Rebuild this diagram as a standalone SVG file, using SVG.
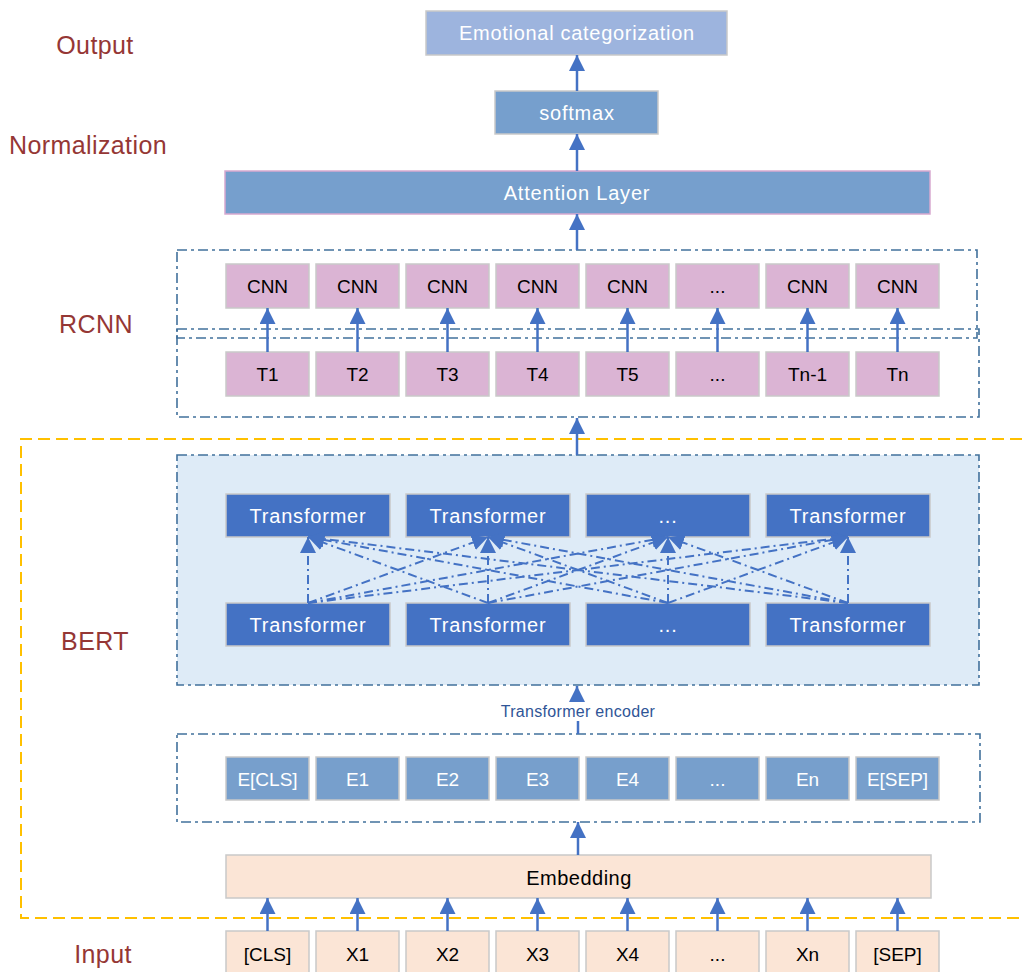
<svg xmlns="http://www.w3.org/2000/svg" width="1022" height="972" viewBox="0 0 1022 972">
<defs>
<marker id="ah" markerUnits="userSpaceOnUse" markerWidth="16" markerHeight="16" refX="15" refY="7.5" orient="auto" viewBox="0 0 15 15">
<path d="M0,0 L15,7.5 L0,15 z" fill="#4472C4"/>
</marker>
<style>
.lbl{font-family:"Liberation Sans",Arial,sans-serif;font-size:25px;fill:#953735;text-anchor:middle;letter-spacing:0.4px}
.t{font-family:"Liberation Sans",Arial,sans-serif;font-size:19px;text-anchor:middle}
.tw{fill:#ffffff}
.tb{fill:#000000}
.tf{font-size:20px;letter-spacing:0.8px}
.box{stroke:#C9C9C9;stroke-width:1.5}
.pink{fill:#DBB4D4}
.peach{fill:#FBE5D6}
.eblue{fill:#779FCC}
.tr{fill:#4472C4}
.cont{fill:none;stroke:#41719C;stroke-width:1.6;stroke-dasharray:10 4 3 4}
.arr{stroke:#4472C4;stroke-width:2.5;fill:none;marker-end:url(#ah)}
.x{stroke:#4472C4;stroke-width:2;fill:none;stroke-dasharray:9 4 2 4;marker-end:url(#ah)}
</style>
</defs>
<rect width="1022" height="972" fill="#ffffff"/>

<g id="labels">
<text class="lbl" x="95" y="54">Output</text>
<text class="lbl" x="88" y="154">Normalization</text>
<text class="lbl" x="96" y="333">RCNN</text>
<text class="lbl" x="95" y="650">BERT</text>
<text class="lbl" x="103" y="963">Input</text>
</g>

<g id="bert-region">
<path d="M1022,439 H21 V918 H1022" fill="none" stroke="#FFC000" stroke-width="2" stroke-dasharray="12 6"/>
</g>

<g id="containers">
<rect class="cont" x="177" y="250" width="800" height="88"/>
<rect class="cont" x="177" y="329" width="802" height="88"/>
<rect x="177" y="455" width="802" height="230" fill="#DEEBF7" stroke="#41719C" stroke-width="1.6" stroke-dasharray="10 4 3 4"/>
<rect class="cont" x="177" y="734" width="803" height="88"/>
</g>

<g id="output">
<rect class="box" x="426" y="11" width="301" height="44" fill="#9DB4DE"/>
<text class="t tw" x="577" y="40" style="font-size:20px;letter-spacing:0.7px">Emotional categorization</text>
</g>
<g id="softmax">
<rect class="box" x="495" y="91" width="163" height="43" fill="#769FCD"/>
<text class="t tw" x="577" y="120" style="font-size:20px;letter-spacing:0.8px">softmax</text>
</g>
<g id="attention">
<rect x="225" y="171" width="705" height="43" fill="#769FCD" stroke="#D7A9CF" stroke-width="1.5"/>
<text class="t tw" x="577" y="200" style="font-size:20px;letter-spacing:0.8px">Attention Layer</text>
</g>

<g id="cnn-row">
<g id="cnn1"><rect class="box pink" x="226" y="264" width="83" height="44"/><text class="t tb" x="267.5" y="293">CNN</text></g>
<g id="cnn2"><rect class="box pink" x="316" y="264" width="83" height="44"/><text class="t tb" x="357.5" y="293">CNN</text></g>
<g id="cnn3"><rect class="box pink" x="406" y="264" width="83" height="44"/><text class="t tb" x="447.5" y="293">CNN</text></g>
<g id="cnn4"><rect class="box pink" x="496" y="264" width="83" height="44"/><text class="t tb" x="537.5" y="293">CNN</text></g>
<g id="cnn5"><rect class="box pink" x="586" y="264" width="83" height="44"/><text class="t tb" x="627.5" y="293">CNN</text></g>
<g id="cnn6"><rect class="box pink" x="676" y="264" width="83" height="44"/><text class="t tb" x="717.5" y="293">...</text></g>
<g id="cnn7"><rect class="box pink" x="766" y="264" width="83" height="44"/><text class="t tb" x="807.5" y="293">CNN</text></g>
<g id="cnn8"><rect class="box pink" x="856" y="264" width="83" height="44"/><text class="t tb" x="897.5" y="293">CNN</text></g>
</g>

<g id="t-row">
<g id="t1"><rect class="box pink" x="226" y="352" width="83" height="44"/><text class="t tb" x="267.5" y="381">T1</text></g>
<g id="t2"><rect class="box pink" x="316" y="352" width="83" height="44"/><text class="t tb" x="357.5" y="381">T2</text></g>
<g id="t3"><rect class="box pink" x="406" y="352" width="83" height="44"/><text class="t tb" x="447.5" y="381">T3</text></g>
<g id="t4"><rect class="box pink" x="496" y="352" width="83" height="44"/><text class="t tb" x="537.5" y="381">T4</text></g>
<g id="t5"><rect class="box pink" x="586" y="352" width="83" height="44"/><text class="t tb" x="627.5" y="381">T5</text></g>
<g id="t6"><rect class="box pink" x="676" y="352" width="83" height="44"/><text class="t tb" x="717.5" y="381">...</text></g>
<g id="t7"><rect class="box pink" x="766" y="352" width="83" height="44"/><text class="t tb" x="807.5" y="381">Tn-1</text></g>
<g id="t8"><rect class="box pink" x="856" y="352" width="83" height="44"/><text class="t tb" x="897.5" y="381">Tn</text></g>
</g>

<g id="transformers-top">
<g id="tt1"><rect class="box tr" x="226" y="494" width="164" height="43"/><text class="t tw tf" x="308" y="523">Transformer</text></g>
<g id="tt2"><rect class="box tr" x="406" y="494" width="164" height="43"/><text class="t tw tf" x="488" y="523">Transformer</text></g>
<g id="tt3"><rect class="box tr" x="586" y="494" width="164" height="43"/><text class="t tw tf" x="668" y="523">...</text></g>
<g id="tt4"><rect class="box tr" x="766" y="494" width="164" height="43"/><text class="t tw tf" x="848" y="523">Transformer</text></g>
</g>
<g id="transformers-bottom">
<g id="tb1"><rect class="box tr" x="226" y="603" width="164" height="43"/><text class="t tw tf" x="308" y="632">Transformer</text></g>
<g id="tb2"><rect class="box tr" x="406" y="603" width="164" height="43"/><text class="t tw tf" x="488" y="632">Transformer</text></g>
<g id="tb3"><rect class="box tr" x="586" y="603" width="164" height="43"/><text class="t tw tf" x="668" y="632">...</text></g>
<g id="tb4"><rect class="box tr" x="766" y="603" width="164" height="43"/><text class="t tw tf" x="848" y="632">Transformer</text></g>
</g>

<g id="e-row">
<g id="e1"><rect class="box eblue" x="226" y="757" width="83" height="43"/><text class="t tw" x="267.5" y="786">E[CLS]</text></g>
<g id="e2"><rect class="box eblue" x="316" y="757" width="83" height="43"/><text class="t tw" x="357.5" y="786">E1</text></g>
<g id="e3"><rect class="box eblue" x="406" y="757" width="83" height="43"/><text class="t tw" x="447.5" y="786">E2</text></g>
<g id="e4"><rect class="box eblue" x="496" y="757" width="83" height="43"/><text class="t tw" x="537.5" y="786">E3</text></g>
<g id="e5"><rect class="box eblue" x="586" y="757" width="83" height="43"/><text class="t tw" x="627.5" y="786">E4</text></g>
<g id="e6"><rect class="box eblue" x="676" y="757" width="83" height="43"/><text class="t tw" x="717.5" y="786">...</text></g>
<g id="e7"><rect class="box eblue" x="766" y="757" width="83" height="43"/><text class="t tw" x="807.5" y="786">En</text></g>
<g id="e8"><rect class="box eblue" x="856" y="757" width="83" height="43"/><text class="t tw" x="897.5" y="786">E[SEP]</text></g>
</g>

<g id="embedding">
<rect class="box peach" x="226" y="855" width="705" height="43"/>
<text class="t tb" x="579" y="885" style="font-size:20px;letter-spacing:0.5px">Embedding</text>
</g>

<g id="input-row">
<g id="x1"><rect class="box peach" x="226" y="931" width="83" height="44"/><text class="t tb" x="267.5" y="961">[CLS]</text></g>
<g id="x2"><rect class="box peach" x="316" y="931" width="83" height="44"/><text class="t tb" x="357.5" y="961">X1</text></g>
<g id="x3"><rect class="box peach" x="406" y="931" width="83" height="44"/><text class="t tb" x="447.5" y="961">X2</text></g>
<g id="x4"><rect class="box peach" x="496" y="931" width="83" height="44"/><text class="t tb" x="537.5" y="961">X3</text></g>
<g id="x5"><rect class="box peach" x="586" y="931" width="83" height="44"/><text class="t tb" x="627.5" y="961">X4</text></g>
<g id="x6"><rect class="box peach" x="676" y="931" width="83" height="44"/><text class="t tb" x="717.5" y="961">...</text></g>
<g id="x7"><rect class="box peach" x="766" y="931" width="83" height="44"/><text class="t tb" x="807.5" y="961">Xn</text></g>
<g id="x8"><rect class="box peach" x="856" y="931" width="83" height="44"/><text class="t tb" x="897.5" y="961">[SEP]</text></g>
</g>

<g id="connectors">
<line class="arr" x1="577" y1="91" x2="577" y2="55"/>
<line class="arr" x1="577" y1="171" x2="577" y2="134"/>
<line class="arr" x1="577" y1="250" x2="577" y2="214"/>
<line class="arr" x1="577" y1="455" x2="577" y2="418"/>
<line stroke="#4472C4" stroke-width="2.5" x1="578" y1="721" x2="578" y2="734"/>
<line class="arr" x1="577" y1="701" x2="577" y2="686"/>
<line class="arr" x1="578" y1="855" x2="578" y2="822"/>

<line class="arr" x1="267.5" y1="352" x2="267.5" y2="308"/>
<line class="arr" x1="357.5" y1="352" x2="357.5" y2="308"/>
<line class="arr" x1="447.5" y1="352" x2="447.5" y2="308"/>
<line class="arr" x1="537.5" y1="352" x2="537.5" y2="308"/>
<line class="arr" x1="627.5" y1="352" x2="627.5" y2="308"/>
<line class="arr" x1="717.5" y1="352" x2="717.5" y2="308"/>
<line class="arr" x1="807.5" y1="352" x2="807.5" y2="308"/>
<line class="arr" x1="897.5" y1="352" x2="897.5" y2="308"/>

<line class="arr" x1="267.5" y1="931" x2="267.5" y2="898"/>
<line class="arr" x1="357.5" y1="931" x2="357.5" y2="898"/>
<line class="arr" x1="447.5" y1="931" x2="447.5" y2="898"/>
<line class="arr" x1="537.5" y1="931" x2="537.5" y2="898"/>
<line class="arr" x1="627.5" y1="931" x2="627.5" y2="898"/>
<line class="arr" x1="717.5" y1="931" x2="717.5" y2="898"/>
<line class="arr" x1="807.5" y1="931" x2="807.5" y2="898"/>
<line class="arr" x1="897.5" y1="931" x2="897.5" y2="898"/>

<line class="x" x1="308" y1="603" x2="308" y2="537"/>
<line class="x" x1="308" y1="603" x2="488" y2="537"/>
<line class="x" x1="308" y1="603" x2="668" y2="537"/>
<line class="x" x1="308" y1="603" x2="848" y2="537"/>
<line class="x" x1="488" y1="603" x2="308" y2="537"/>
<line class="x" x1="488" y1="603" x2="488" y2="537"/>
<line class="x" x1="488" y1="603" x2="668" y2="537"/>
<line class="x" x1="488" y1="603" x2="848" y2="537"/>
<line class="x" x1="668" y1="603" x2="308" y2="537"/>
<line class="x" x1="668" y1="603" x2="488" y2="537"/>
<line class="x" x1="668" y1="603" x2="668" y2="537"/>
<line class="x" x1="668" y1="603" x2="848" y2="537"/>
<line class="x" x1="848" y1="603" x2="308" y2="537"/>
<line class="x" x1="848" y1="603" x2="488" y2="537"/>
<line class="x" x1="848" y1="603" x2="668" y2="537"/>
<line class="x" x1="848" y1="603" x2="848" y2="537"/>
</g>

<g id="encoder-label">
<text x="578" y="717" style="font-family:'Liberation Sans',Arial,sans-serif;font-size:16px;fill:#2F5597;text-anchor:middle;letter-spacing:0.3px">Transformer encoder</text>
</g>
</svg>
